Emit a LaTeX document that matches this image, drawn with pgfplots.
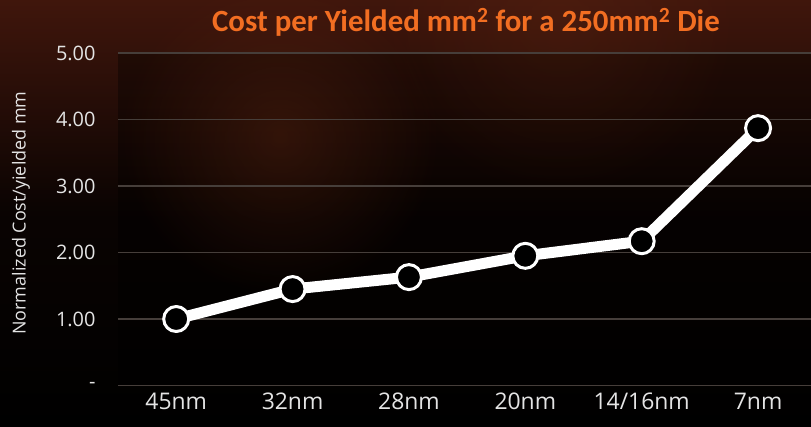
\documentclass[border=0pt]{standalone}
\usepackage{pgfplots}
\pgfplotsset{compat=1.18}
\usepackage{fontspec}
\setmainfont{Open Sans}
\newfontfamily\titlefont{Carlito}
\usetikzlibrary{fadings}
\tikzfading[name=softglow, inner color=transparent!0, outer color=transparent!100]
\definecolor{bgtop}{RGB}{64,22,12}
\definecolor{glow}{RGB}{110,45,20}
\definecolor{titleorange}{RGB}{242,110,34}
\definecolor{gridgray}{RGB}{70,62,58}
\definecolor{labelgray}{RGB}{228,228,228}
\begin{document}
\begin{tikzpicture}[x=1bp,y=1bp]
  % slide background
  \shade[top color=bgtop, bottom color=black, middle color=black!85!bgtop] (0,0) rectangle (811,426);
  \fill[black, opacity=0.35] (118,40.5) rectangle (811,373);
  \fill[glow, opacity=0.35, path fading=softglow] (280,290) circle (160);
  \fill[glow, opacity=0.25, path fading=softglow] (560,410) circle (180);
  \node[text=titleorange, font=\titlefont\bfseries\fontsize{31}{36}\selectfont]
    at (466,404) {Cost per Yielded mm\textsuperscript{2} for a 250mm\textsuperscript{2} Die};
  \node[text=labelgray, font=\fontsize{18}{22}\selectfont, rotate=90]
    at (21,213) {Normalized Cost/yielded mm};
  \begin{axis}[
    at={(118bp,40.5bp)}, anchor=south west,
    scale only axis, width=693bp, height=332.5bp,
    xmin=-0.5, xmax=5.455, ymin=0, ymax=5,
    axis line style={draw=none}, major tick style={draw=none},
    ytick={0,1,2,3,4,5},
    yticklabels={-,1.00,2.00,3.00,4.00,5.00},
    xtick={0,1,2,3,4,5},
    xticklabels={45nm,32nm,28nm,20nm,14/16nm,7nm},
    ymajorgrids, grid style={gridgray, line width=1.2bp},
    yticklabel style={text=labelgray, font=\fontsize{20}{24}\selectfont, xshift=-19bp},
    xticklabel style={text=labelgray, font=\fontsize{23}{27}\selectfont, yshift=-4bp},
    clip=false,
  ]
    \addplot[white, line width=11bp, line join=round,
      mark=*, mark size=12.5bp,
      mark options={fill=black, draw=white, line width=3bp}]
      coordinates {(0,1.00) (1,1.45) (2,1.63) (3,1.95) (4,2.17) (5,3.87)};
  \end{axis}
  \pgfresetboundingbox
  \useasboundingbox (0,0) rectangle (811,426);
\end{tikzpicture}
\end{document}
